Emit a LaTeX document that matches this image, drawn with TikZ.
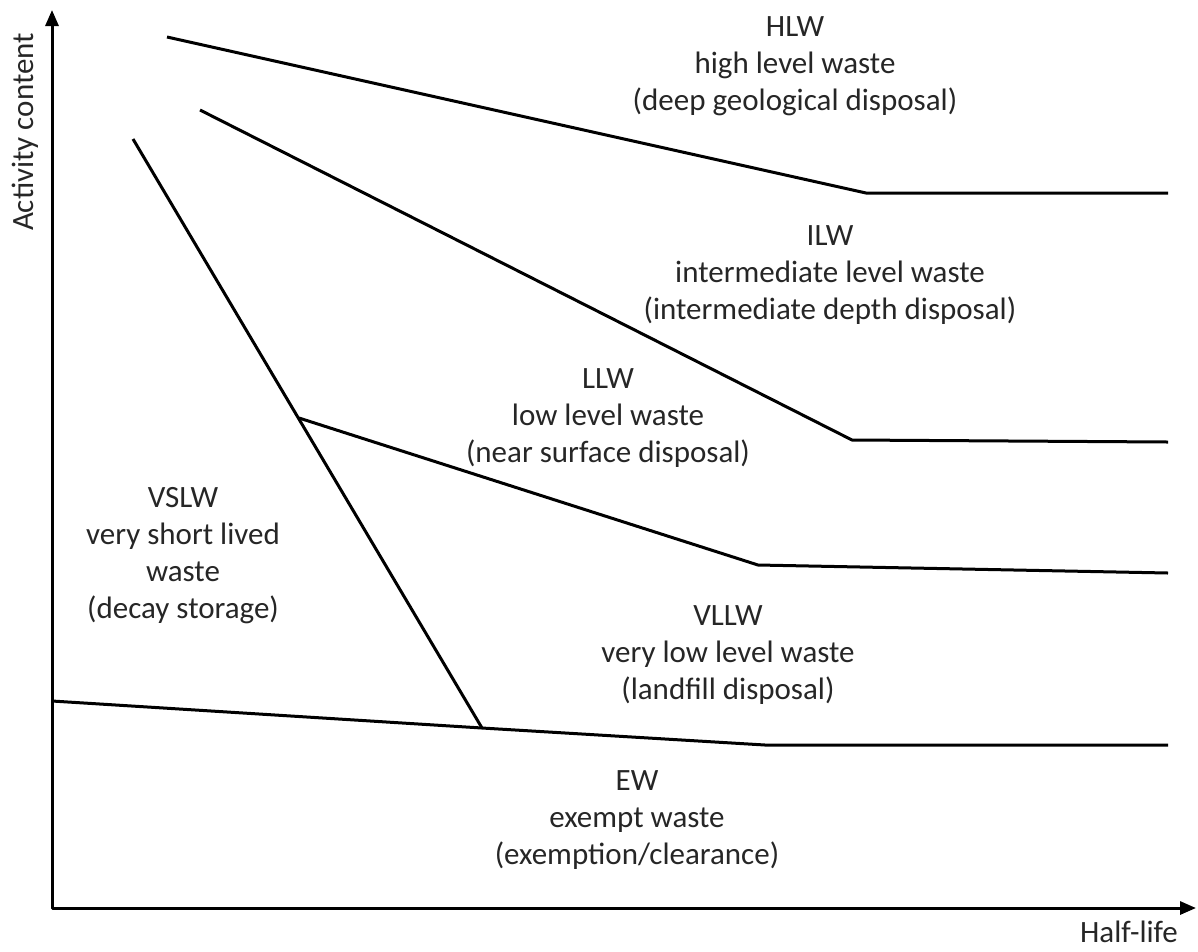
\documentclass[tikz,border=0pt]{standalone}
\usepackage{fontspec}
\setmainfont{Carlito}
\usetikzlibrary{arrows.meta}

\tikzset{
  zone/.style={align=center, inner sep=0pt, text=black!85,
    font=\fontsize{31}{37}\selectfont},
  axislabel/.style={inner sep=0pt, text=black!85,
    font=\fontsize{31}{37}\selectfont},
  border/.style={line width=3pt, line join=round}
}

\begin{document}
\begin{tikzpicture}[x=1pt, y=-1pt, >={Triangle[length=16pt,width=13pt]}]
\useasboundingbox (0,0) rectangle (1198,951);

% axes
\coordinate (origin) at (52,908);
\coordinate (ytip) at (52,10);
\coordinate (xtip) at (1196,908);
\draw [border, <->] (ytip) -- (origin) -- (xtip);

\node [axislabel, rotate=90] (activity) at (25,132) {Activity content};
\node [axislabel] (halflife) at (1129,932) {Half-life};

% corner points of the boundaries
\coordinate (hlw-1) at (167,37);
\coordinate (hlw-2) at (866,193);
\coordinate (hlw-3) at (1168,193);
\coordinate (ilw-1) at (200,110);
\coordinate (ilw-2) at (852,440);
\coordinate (ilw-3) at (1168,442);
\coordinate (llw-1) at (299,418);
\coordinate (llw-2) at (758,565);
\coordinate (llw-3) at (1168,573);
\coordinate (vslw-1) at (133,139);
\coordinate (vslw-2) at (482,728);
\coordinate (ew-1) at (52,701);
\coordinate (ew-2) at (765,745);
\coordinate (ew-3) at (1168,745);

\draw [border] (hlw-1) -- (hlw-2) -- (hlw-3);
\draw [border] (ilw-1) -- (ilw-2) -- (ilw-3);
\draw [border] (llw-1) -- (llw-2) -- (llw-3);
\draw [border] (vslw-1) -- (vslw-2);
\draw [border] (ew-1) -- (vslw-2) -- (ew-2) -- (ew-3);

% waste classes
\node [zone] (hlw) at (795,66) {HLW\\high level waste\\(deep geological disposal)};
\node [zone] (ilw) at (830,275) {ILW\\intermediate level waste\\(intermediate depth disposal)};
\node [zone] (llw) at (608,418) {LLW\\low level waste\\(near surface disposal)};
\node [zone] (vslw) at (183,556) {VSLW\\very short lived\\waste\\(decay storage)};
\node [zone] (vllw) at (728,655) {VLLW\\very low level waste\\(landfill disposal)};
\node [zone] (ew) at (637,820) {EW\\exempt waste\\(exemption/clearance)};

\end{tikzpicture}
\end{document}
